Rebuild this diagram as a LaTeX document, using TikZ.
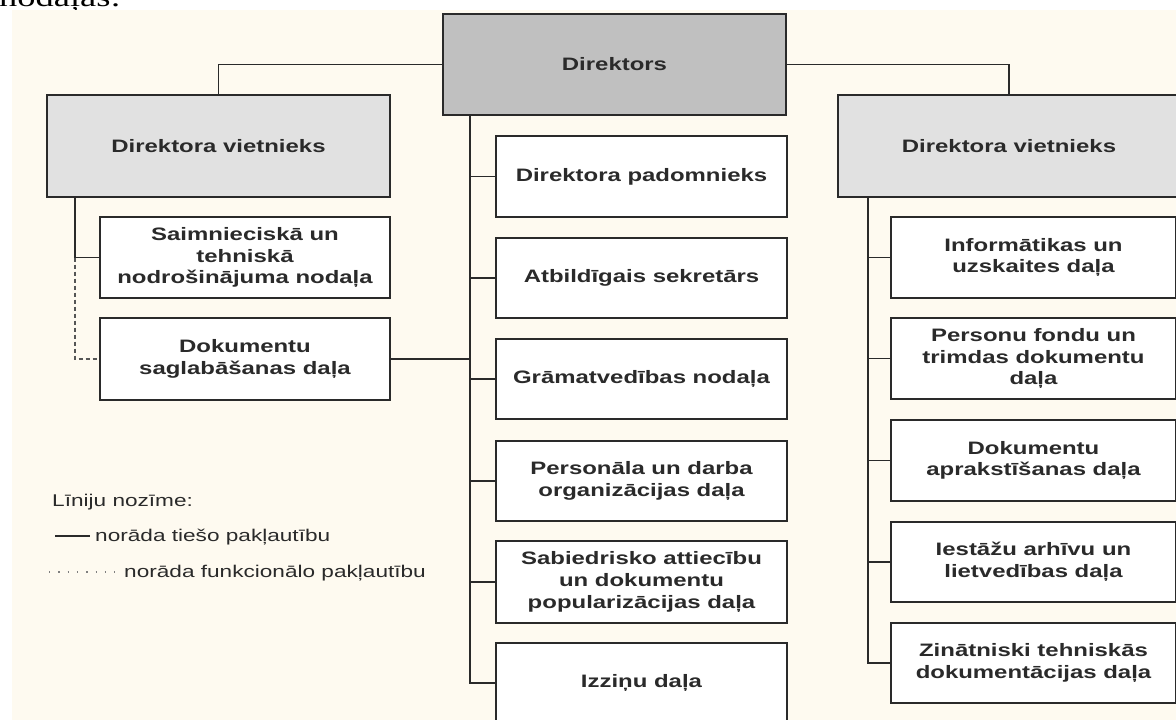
\documentclass[tikz,border=0pt]{standalone}
\usepackage{fontspec}
\setmainfont{Liberation Sans}[FakeStretch=1.33]
\newfontfamily\docserif{Liberation Serif}[FakeStretch=1.35]
\definecolor{cream}{HTML}{FEFAF0}
\definecolor{ink}{HTML}{2A2A2A}
\definecolor{dirgray}{HTML}{C0C0C0}
\definecolor{depgray}{HTML}{E1E1E1}
\tikzset{
  box/.style={draw=ink, line width=2pt, fill=white, inner sep=0pt, align=center,
    text=ink, font=\fontsize{18}{21.7}\selectfont\bfseries},
  dirbox/.style={box, fill=dirgray},
  depbox/.style={box, fill=depgray},
  conn/.style={draw=ink, line width=1.8pt},
  funcconn/.style={draw=ink!80, line width=1.8pt, dash pattern=on 4pt off 3pt},
  legtext/.style={anchor=base west, inner sep=0pt, text=ink, font=\fontsize{17}{20}\selectfont}
}
\begin{document}
\begin{tikzpicture}[x=1pt, y=-1pt]
\useasboundingbox (0,0) rectangle (1176,720);
\node[anchor=base west, inner sep=0pt, font=\docserif\fontsize{27}{30}\selectfont] (doctext) at (-1,6) {nodaļas:};
\fill[cream] (12,10) rectangle (1180,724);

% top level
\node[dirbox, minimum width=343pt, minimum height=101pt] (dir) at (614.5,64.5) {Direktors};
\node[depbox, minimum width=343pt, minimum height=102pt] (ldep) at (218.5,146) {Direktora vietnieks};
\node[depbox, minimum width=342pt, minimum height=102pt] (rdep) at (1009,146) {Direktora vietnieks};

% left column
\node[box, minimum width=290pt, minimum height=81pt] (saim) at (245,257.5) {Saimnieciskā un\\tehniskā\\nodrošinājuma nodaļa};
\node[box, minimum width=290pt, minimum height=82pt] (dok) at (245,359) {Dokumentu\\saglabāšanas daļa};

% center column
\node[box, minimum width=291pt, minimum height=81pt] (pad) at (641.5,176.5) {Direktora padomnieks};
\node[box, minimum width=291pt, minimum height=80pt] (atb) at (641.5,278) {Atbildīgais sekretārs};
\node[box, minimum width=291pt, minimum height=80pt] (gram) at (641.5,379) {Grāmatvedības nodaļa};
\node[box, minimum width=291pt, minimum height=80pt] (pers) at (641.5,481) {Personāla un darba\\organizācijas daļa};
\node[box, minimum width=291pt, minimum height=82pt] (sab) at (641.5,582) {Sabiedrisko attiecību\\un dokumentu\\popularizācijas daļa};
\node[box, minimum width=291pt, minimum height=80pt] (izz) at (641.5,683) {Izziņu daļa};

% right column
\node[box, minimum width=285pt, minimum height=81pt] (inf) at (1033.5,257.5) {Informātikas un\\uzskaites daļa};
\node[box, minimum width=285pt, minimum height=81pt] (pfd) at (1033.5,358.5) {Personu fondu un\\trimdas dokumentu\\daļa};
\node[box, minimum width=285pt, minimum height=81pt] (apr) at (1033.5,460.5) {Dokumentu\\aprakstīšanas daļa};
\node[box, minimum width=285pt, minimum height=80pt] (iest) at (1033.5,562) {Iestāžu arhīvu un\\lietvedības daļa};
\node[box, minimum width=285pt, minimum height=80pt] (zin) at (1033.5,663) {Zinātniski tehniskās\\dokumentācijas daļa};

% spine coordinates
\coordinate (lv) at (75,197);
\coordinate (cv) at (470,115);
\coordinate (rv) at (868,197);

% connectors
\draw[conn] (dir.west) -| (ldep.north);
\draw[conn] (dir.east) -| (rdep.north);

\draw[conn] (lv) |- (saim.west);
\draw[funcconn] (saim.west -| lv) |- (dok.west);

\draw[conn] (cv) |- (izz.west);
\draw[conn] (cv |- pad.west) -- (pad.west);
\draw[conn] (cv |- atb.west) -- (atb.west);
\draw[conn] (cv |- gram.west) -- (gram.west);
\draw[conn] (cv |- pers.west) -- (pers.west);
\draw[conn] (cv |- sab.west) -- (sab.west);
\draw[conn] (dok.east) -- (dok.east -| cv);

\draw[conn] (rv) |- (zin.west);
\draw[conn] (rv |- inf.west) -- (inf.west);
\draw[conn] (rv |- pfd.west) -- (pfd.west);
\draw[conn] (rv |- apr.west) -- (apr.west);
\draw[conn] (rv |- iest.west) -- (iest.west);

% legend
\node[legtext] (legtitle) at (52,506) {Līniju nozīme:};
\coordinate (l1a) at (55,536);
\coordinate (l1b) at (90,536);
\draw[draw=ink, line width=1.3pt] (l1a) -- (l1b);
\node[legtext] (leg1) at (95,541) {norāda tiešo pakļautību};
\coordinate (l2a) at (49,572);
\coordinate (l2b) at (118,572);
\draw[draw=ink!60, line width=1.3pt, dash pattern=on 1.3pt off 8pt] (l2a) -- (l2b);
\node[legtext] (leg2) at (124,577) {norāda funkcionālo pakļautību};
\end{tikzpicture}
\end{document}
